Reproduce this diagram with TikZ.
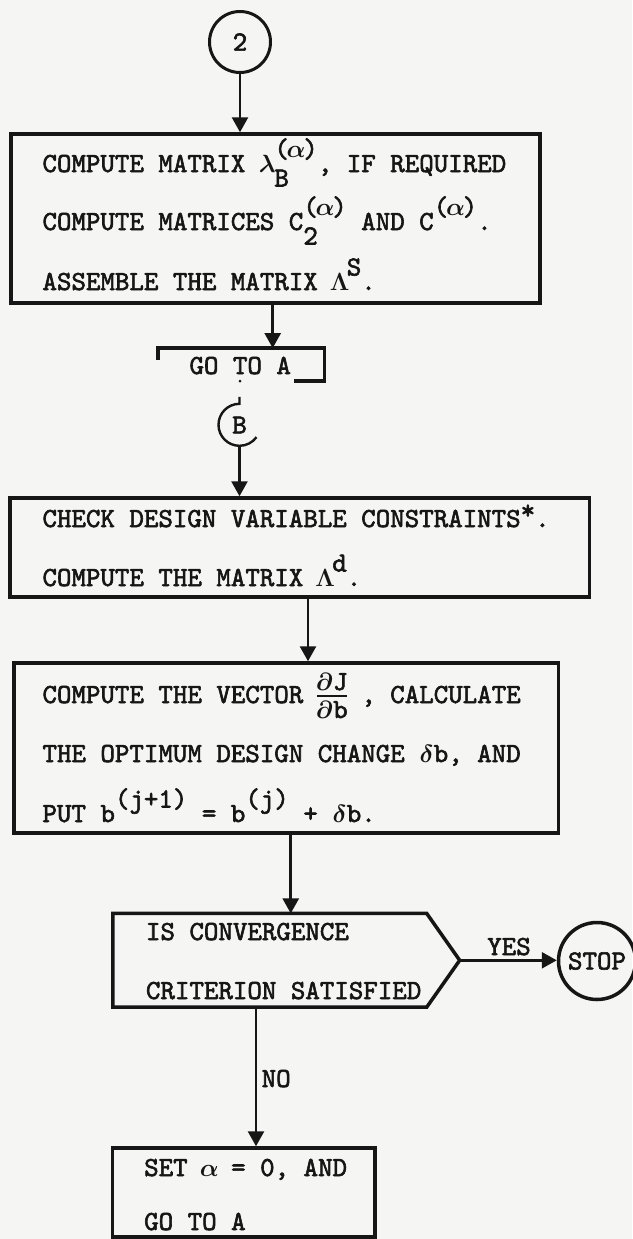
\documentclass[tikz,border=0pt]{standalone}
\usepackage{fontspec}
\usetikzlibrary{arrows.meta}

% typewriter face: Latin Modern Mono, thickened like ribbon ink
\newfontfamily\twfont{lmmono10-regular}[Extension=.otf, FakeBold=2.2]

\definecolor{paper}{HTML}{F5F5F3}
\definecolor{ink}{HTML}{161616}

% typewriter half-line shifts and fixed-pitch Greek cells
\newcommand\hi[1]{\raisebox{14.5pt}{#1}}
\newcommand\lo[1]{\raisebox{-14.5pt}{#1}}
\newcommand\hilo[2]{\rlap{\lo{#2}}\hi{#1}}
\newcommand\gk[1]{\makebox[14.5pt]{$\boldsymbol{#1}$}}
\newcommand\pal{(\gk{\alpha})}
% partial derivative dJ/db typed as two stacked half-lines
\newcommand\dJdb{\makebox[29pt]{%
  \rlap{\raisebox{13pt}{\makebox[29pt]{$\boldsymbol{\partial}$J}}}%
  \rlap{\raisebox{-15pt}{\makebox[29pt]{$\boldsymbol{\partial}$b}}}%
  \rule[6.5pt]{30pt}{1.6pt}}}
\usepackage{amsmath}

\tikzset{
  tw/.style={font=\fontsize{27.6}{30}\twfont, text=ink},
  txt/.style={tw, inner sep=0pt, anchor=base west},
  box/.style={draw=ink, line width=3.5pt, rectangle, inner sep=0pt},
  frame/.style={draw=none, rectangle, inner sep=0pt},
  outline/.style={draw=ink, line width=3.5pt, line join=miter},
  conn/.style={draw=ink, line width=3pt, circle, inner sep=0pt, tw},
  flow/.style={draw=ink, line width=2.6pt, -{Triangle[width=16pt,length=15pt]}},
}

\begin{document}
\begin{tikzpicture}[x=1pt, y=-1pt]
  \fill[paper] (0,0) rectangle (632,1239);
  \useasboundingbox (0,0) rectangle (632,1239);

  % entry connector
  \node[conn, minimum size=61pt] (c2) at (240,42) {2};

  % first process block
  \node[box, minimum width=529pt, minimum height=169pt] (b1) at (275.5,218.5) {};
  \node[txt] (t11) at (42.3,172) {COMPUTE MATRIX \gk{\lambda}\hilo{\pal}{B}, IF REQUIRED};
  \node[txt] (t12) at (42.3,230) {COMPUTE MATRICES C\hilo{\pal}{2} AND C\hi{\pal}.};
  \node[txt] (t13) at (42.3,290) {ASSEMBLE THE MATRIX \gk{\Lambda}\hi{S}.};

  % exit to A
  \node[frame, minimum width=166pt, minimum height=32.4pt] (g) at (241.3,364.5) {};
  \draw[outline, line cap=butt] ([yshift=-12pt]g.north west) -- (g.north west)
      -- (g.north east) -- (g.south east) -- ([xshift=-31pt]g.south east);
  \node[txt] (tg) at (189.3,374) {GO TO A};

  % entry connector B
  \coordinate (dotA) at (240,381);
  \fill[ink] (dotA) circle[radius=1.5];
  \node[frame, circle, minimum size=42pt, tw] (cb) at (239.5,425) {B};
  \draw[draw=ink, line width=2.4pt] ([yshift=7pt]cb.north) -- (cb.north)
      arc[start angle=270, end angle=36, radius=21];

  % second process block
  \node[box, minimum width=579.5pt, minimum height=99pt] (b2) at (299.75,547.5) {};
  \node[txt] (t21) at (42.3,527) {CHECK DESIGN VARIABLE CONSTRAINTS\raisebox{8pt}{*}.};
  \node[txt] (t22) at (42.3,586) {COMPUTE THE MATRIX \gk{\Lambda}\hi{d}.};

  % third process block
  \node[box, minimum width=544.5pt, minimum height=170pt] (b3) at (286.25,748) {};
  \node[txt] (t31) at (42.3,703) {COMPUTE THE VECTOR \dJdb\ , CALCULATE};
  \node[txt] (t32) at (42.3,762) {THE OPTIMUM DESIGN CHANGE \gk{\delta}b, AND};
  \node[txt] (t33) at (42.3,822) {PUT b\hi{(j+1)} = b\hi{(j)} + \gk{\delta}b.};

  % convergence test
  \node[frame, minimum width=346.5pt, minimum height=93.4pt] (dec) at (286.25,960.3) {};
  \draw[outline] (dec.north west) -- ([xshift=-33pt]dec.north east) -- (dec.east)
      -- ([xshift=-33pt]dec.south east) -- (dec.south west) -- cycle;
  \node[txt] (t41) at (145.8,940) {IS CONVERGENCE};
  \node[txt] (t42) at (145.8,999) {CRITERION SATISFIED};

  % terminal
  \node[conn, line width=3.5pt, minimum size=77pt] (stop) at (597,961) {STOP};

  % reset block
  \node[box, minimum width=262.3pt, minimum height=89pt] (bb) at (243.85,1192.5) {};
  \node[txt] (t51) at (144,1176) {SET \gk{\alpha} = 0, AND};
  \node[txt] (t52) at (144,1230) {GO TO A};

  % flow lines
  \draw[flow] (c2.south) -- (c2.south |- b1.north);
  \draw[flow] ([xshift=-2.8pt]b1.south) -- ([xshift=-2.8pt]b1.south |- g.north);
  \draw[flow] (cb.south) -- (cb.south |- b2.north);
  \draw[flow] ([xshift=8.25pt]b2.south) -- ([xshift=8.25pt]b2.south |- b3.north);
  \draw[flow] ([xshift=4.5pt]b3.south) -- ([xshift=4.5pt]b3.south |- dec.north);
  \draw[flow] (dec.east) -- (dec.east -| stop.west);
  \draw[flow] ([xshift=-30.25pt]dec.south) -- ([xshift=-30.25pt]dec.south |- bb.north);

  % branch labels
  \node[tw, inner sep=0pt, anchor=base] (yes) at (509,955) {YES};
  \node[txt] (no) at (261.5,1087) {NO};
\end{tikzpicture}
\end{document}
